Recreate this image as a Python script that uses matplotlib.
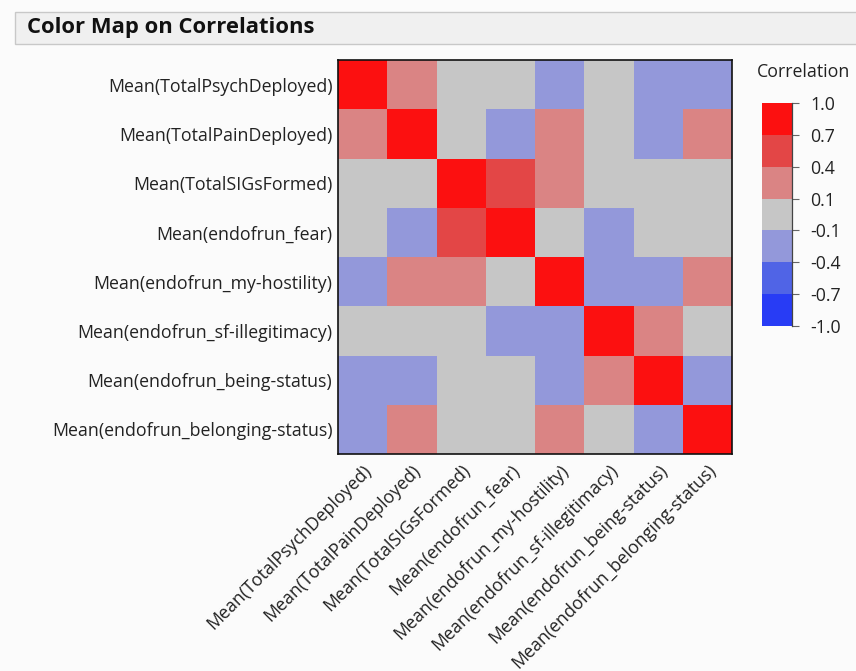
import matplotlib.pyplot as plt
import numpy as np
from matplotlib.colors import ListedColormap, BoundaryNorm
from matplotlib.patches import Rectangle

plt.rcParams['font.family'] = ['Open Sans', 'DejaVu Sans']

variables = [
    'Mean(TotalPsychDeployed)',
    'Mean(TotalPainDeployed)',
    'Mean(TotalSIGsFormed)',
    'Mean(endofrun_fear)',
    'Mean(endofrun_my-hostility)',
    'Mean(endofrun_sf-illegitimacy)',
    'Mean(endofrun_being-status)',
    'Mean(endofrun_belonging-status)',
]

# correlations
corr = np.array([
    [1.00, 0.24, 0.02, 0.03, -0.22, 0.01, -0.20, -0.21],
    [0.24, 1.00, 0.04, -0.23, 0.26, 0.02, -0.25, 0.27],
    [0.02, 0.04, 1.00, 0.55, 0.25, 0.05, 0.03, 0.04],
    [0.03, -0.23, 0.55, 1.00, 0.00, -0.24, 0.01, 0.02],
    [-0.22, 0.26, 0.25, 0.00, 1.00, -0.21, -0.20, 0.28],
    [0.01, 0.02, 0.05, -0.24, -0.21, 1.00, 0.22, 0.03],
    [-0.20, -0.25, 0.03, 0.01, -0.20, 0.22, 1.00, -0.23],
    [-0.21, 0.27, 0.04, 0.02, 0.28, 0.03, -0.23, 1.00],
])

bounds = [-1.0, -0.7, -0.4, -0.1, 0.1, 0.4, 0.7, 1.0]
band_colors = ['#283cf5', '#5064e6', '#9398da', '#c6c6c6',
               '#da8484', '#e34646', '#fc1010']
cmap = ListedColormap(band_colors)
norm = BoundaryNorm(bounds, cmap.N)

fig = plt.figure(figsize=(8.56, 6.71), dpi=100, facecolor='#fbfbfb')

# title bar
fig.patches.append(Rectangle((15 / 856, 1 - 44 / 671), 1.0, 32 / 671,
                             transform=fig.transFigure, facecolor='#f0f0f0',
                             edgecolor='#c8c8c8', linewidth=1))
fig.text(27 / 856, 1 - 28 / 671, 'Color Map on Correlations',
         fontsize=15.8, fontweight='bold', va='center', ha='left', color='#111111')

fs = 12.8
ax = fig.add_axes([338 / 856, 1 - 454 / 671, 394 / 856, 394 / 671])
n = len(variables)
ax.pcolormesh(np.arange(n + 1), np.arange(n + 1), corr, cmap=cmap, norm=norm,
              edgecolors='none')
ax.set_xlim(0, n)
ax.set_ylim(n, 0)
ax.set_xticks(np.arange(n) + 0.5)
ax.set_yticks(np.arange(n) + 0.5)
ax.set_xticklabels(variables, rotation=45, ha='right', va='top',
                   rotation_mode='anchor', fontsize=fs, color='#222222')
ax.set_yticklabels(variables, fontsize=fs, color='#222222')
ax.tick_params(axis='y', length=0, pad=4)
ax.tick_params(axis='x', length=0, pad=5)
for s in ax.spines.values():
    s.set_linewidth(1.2)
    s.set_color('#111111')

# colour legend
cax = fig.add_axes([762 / 856, 1 - 326 / 671, 30 / 856, 223 / 671])
cb = fig.colorbar(plt.cm.ScalarMappable(norm=norm, cmap=cmap), cax=cax,
                  ticks=bounds, spacing='uniform')
cb.outline.set_visible(False)
cax.plot([1, 1], [0, 1], transform=cax.transAxes, color='#444444',
         linewidth=0.9, clip_on=False)
cb.ax.set_yticklabels(['%.1f' % b for b in bounds])
cb.ax.tick_params(length=5, width=0.8, color='#666666', labelsize=fs,
                  labelcolor='#222222', pad=8)
fig.text(804 / 856, 1 - 72 / 671, 'Correlation', fontsize=fs, ha='center',
         va='center', color='#222222')

fig.savefig('out.png', dpi=100, facecolor=fig.get_facecolor())
